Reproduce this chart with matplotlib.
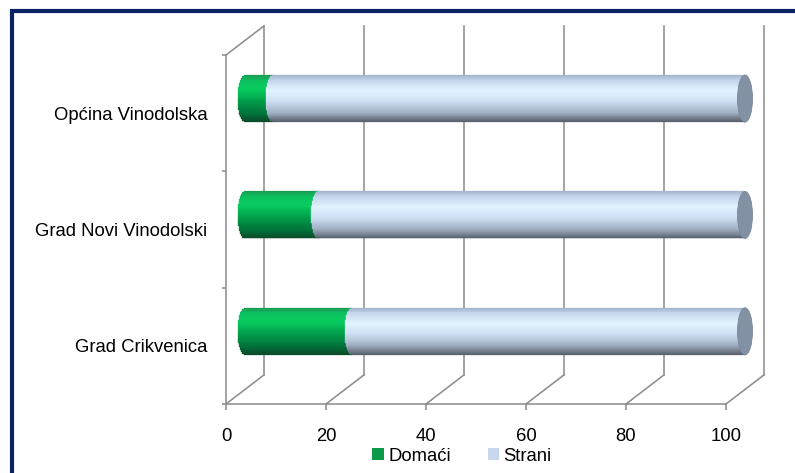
import numpy as np
import matplotlib
matplotlib.use('Agg')
import matplotlib.pyplot as plt
from matplotlib.colors import LinearSegmentedColormap
from matplotlib.patches import Ellipse, Rectangle, Patch

plt.rcParams['font.family'] = ['Liberation Sans', 'DejaVu Sans']

# data (bottom to top)
categories = ['Grad Crikvenica', 'Grad Novi Vinodolski', 'Općina Vinodolska']
domaci = [21.4, 14.7, 5.6]
strani = [100 - v for v in domaci]
series_names = ['Domaći', 'Strani']
xticks = [0, 20, 40, 60, 80, 100]

# 3d look (depth in data units)
DX, DY = 7.6, 0.25
BAR_H = 0.404
CAP_A = 1.5
GRID = '#8a8a8a'
FS = 13.3

green_cm = LinearSegmentedColormap.from_list('g', [
    (0.0, '#1a9f55'), (0.12, '#0cc25e'), (0.3, '#08cc60'), (0.55, '#02a04c'),
    (0.82, '#00743b'), (1.0, '#0b4c2b')])
blue_cm = LinearSegmentedColormap.from_list('b', [
    (0.0, '#a6b6cd'), (0.1, '#c4d6ec'), (0.33, '#e2f4ff'), (0.55, '#cfe2f5'),
    (0.8, '#a3b3c7'), (0.93, '#75818f'), (1.0, '#5a6270')])
CAP_COLOR = '#8391a5'

fig = plt.figure(figsize=(7.95, 4.73), dpi=100)
ax = fig.add_axes([226 / 795, 69 / 473, 500 / 795, 349 / 473])
ax.set_xlim(0, 100)
ax.set_ylim(-0.5, 2.5)

for s in ['top', 'right']:
    ax.spines[s].set_visible(False)
for s in ['left', 'bottom']:
    ax.spines[s].set_color(GRID)
    ax.spines[s].set_linewidth(1.1)

ax.set_xticks(xticks)
ax.set_xticklabels([str(t) for t in xticks], fontsize=FS)
ax.tick_params(axis='x', length=4, width=1.1, color=GRID, pad=13.5)
ax.set_yticks([-0.5, 0.5, 1.5, 2.5])
ax.set_yticklabels([])
ax.tick_params(axis='y', which='major', length=3, width=1.1, color=GRID)
ax.set_yticks(range(len(categories)), minor=True)
ax.set_yticklabels(categories, minor=True, fontsize=FS)
ax.tick_params(axis='y', which='minor', length=0, pad=13.5)

# back wall gridlines and floor diagonals
for t in xticks:
    ax.plot([t + DX, t + DX], [-0.5 + DY, 2.5 + DY], color=GRID, lw=1.1,
            clip_on=False, zorder=1)
    ax.plot([t, t + DX], [-0.5, -0.5 + DY], color=GRID, lw=1.1,
            clip_on=False, zorder=1)
ax.plot([0, DX], [2.5, 2.5 + DY], color=GRID, lw=1.1, clip_on=False, zorder=1)

# cylinders drawn as thin horizontal strips
N = 50
tt = np.linspace(1, -1, N + 1)
tc = (tt[:-1] + tt[1:]) / 2
frac = np.linspace(0, 1, N)
sq = np.sqrt(np.clip(1 - tc ** 2, 0, 1))
sh = BAR_H / N
for i, cat in enumerate(categories):
    yc = i + DY / 2
    ys = yc + tc * BAR_H / 2
    x0 = DX / 2
    g = domaci[i]
    left_g = x0 - CAP_A * sq
    gc = green_cm(frac)
    ax.barh(ys, g + CAP_A * sq, left=left_g, height=sh * 1.05, color=gc,
            edgecolor=gc, linewidth=0.2, clip_on=False, zorder=3)
    left_b = x0 + g - CAP_A * sq
    bc = blue_cm(frac)
    ax.barh(ys, x0 + g + strani[i] - left_b, left=left_b, height=sh * 1.05,
            color=bc, edgecolor=bc, linewidth=0.2, clip_on=False, zorder=4)
    cap = Ellipse((x0 + g + strani[i], yc), 2 * CAP_A, BAR_H,
                  facecolor=CAP_COLOR, edgecolor='#7a889a', lw=0.6,
                  clip_on=False, zorder=5)
    ax.add_patch(cap)

# legend
handles = [Patch(facecolor='#0a9a48', edgecolor='none'),
           Patch(facecolor='#c6d7ee', edgecolor='none')]
fig.legend(handles, series_names, loc='center', ncol=2,
           bbox_to_anchor=(462 / 795, 1 - 456 / 473), frameon=False,
           fontsize=FS, handlelength=0.6, handleheight=0.6,
           handletextpad=0.25, columnspacing=2.0)

# outer frame (cut off at right and bottom)
fig.add_artist(Rectangle((12 / 795, -0.1), 1.2, 1.1 - 11.5 / 473,
                         transform=fig.transFigure, fill=False,
                         edgecolor='#0a2463', lw=3))

fig.savefig('out.png', dpi=100)
